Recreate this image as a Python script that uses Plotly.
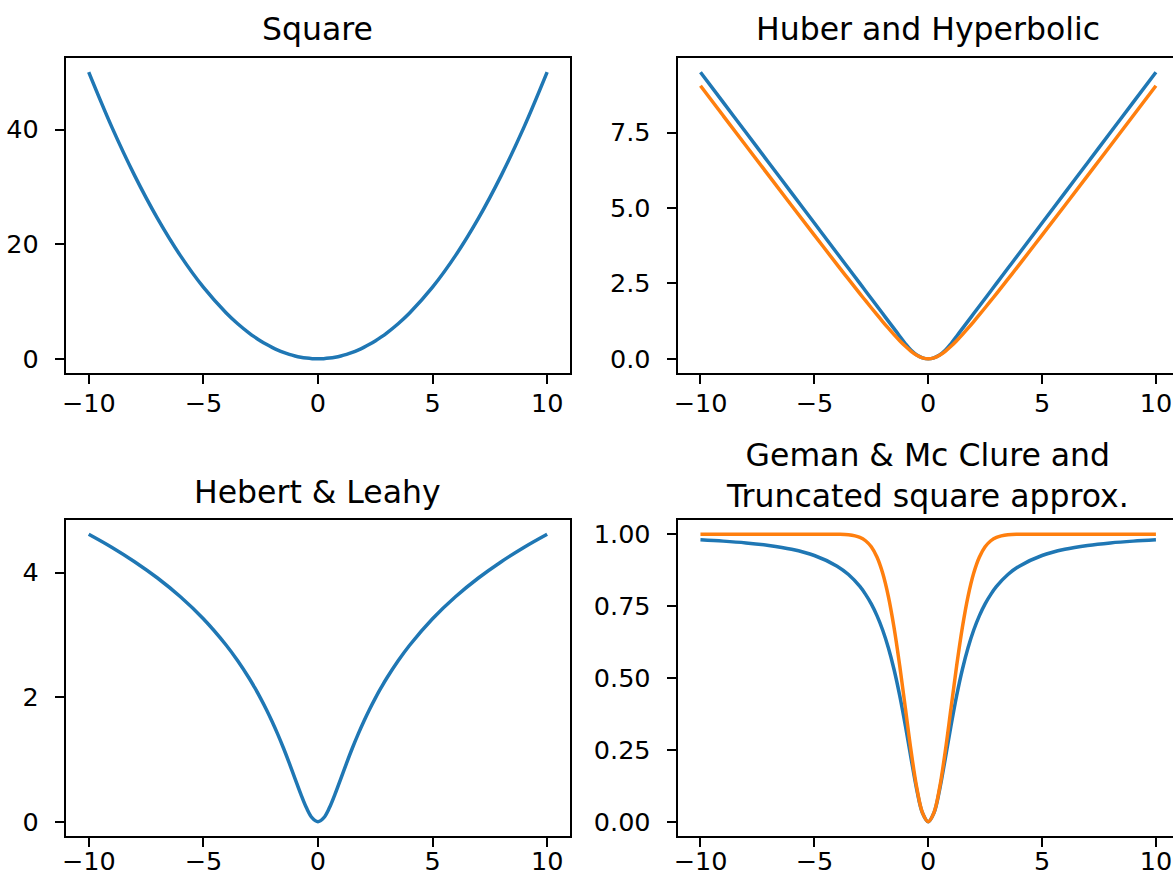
import plotly.graph_objects as go

# ---- data ----
x_vals = [-10, -9, -8, -7, -6, -5, -4, -3.5, -3, -2.75, -2.5, -2.25, -2, -1.75, -1.5, -1.25, -1, -0.75, -0.5, -0.25,
          0, 0.25, 0.5, 0.75, 1, 1.25, 1.5, 1.75, 2, 2.25, 2.5, 2.75, 3, 3.5, 4, 5, 6, 7, 8, 9, 10]

square = [50, 40.5, 32, 24.5, 18, 12.5, 8, 6.125, 4.5, 3.781, 3.125, 2.531, 2, 1.531, 1.125, 0.781, 0.5, 0.281, 0.125, 0.031,
          0, 0.031, 0.125, 0.281, 0.5, 0.781, 1.125, 1.531, 2, 2.531, 3.125, 3.781, 4.5, 6.125, 8, 12.5, 18, 24.5, 32, 40.5, 50]

huber = [9.5, 8.5, 7.5, 6.5, 5.5, 4.5, 3.5, 3.0, 2.5, 2.25, 2.0, 1.75, 1.5, 1.25, 1.0, 0.75, 0.5, 0.281, 0.125, 0.031,
         0, 0.031, 0.125, 0.281, 0.5, 0.75, 1.0, 1.25, 1.5, 1.75, 2.0, 2.25, 2.5, 3.0, 3.5, 4.5, 5.5, 6.5, 7.5, 8.5, 9.5]

hyperbolic = [9.05, 8.055, 7.062, 6.071, 5.083, 4.099, 3.123, 2.640, 2.162, 1.926, 1.693, 1.462, 1.236, 1.016, 0.803, 0.601, 0.414, 0.25, 0.118, 0.031,
              0, 0.031, 0.118, 0.25, 0.414, 0.601, 0.803, 1.016, 1.236, 1.462, 1.693, 1.926, 2.162, 2.640, 3.123, 4.099, 5.083, 6.071, 7.062, 8.055, 9.05]

hebert_leahy = [4.615, 4.407, 4.174, 3.912, 3.611, 3.258, 2.833, 2.584, 2.303, 2.147, 1.981, 1.802, 1.609, 1.402, 1.179, 0.941, 0.693, 0.446, 0.223, 0.061,
                0, 0.061, 0.223, 0.446, 0.693, 0.941, 1.179, 1.402, 1.609, 1.802, 1.981, 2.147, 2.303, 2.584, 2.833, 3.258, 3.611, 3.912, 4.174, 4.407, 4.615]

geman_mcclure = [0.9804, 0.9759, 0.9697, 0.9608, 0.9474, 0.9259, 0.8889, 0.8596, 0.8182, 0.7908, 0.7576, 0.7168, 0.6667, 0.6049, 0.5294, 0.4386, 0.3333, 0.2195, 0.1111, 0.0303,
                 0, 0.0303, 0.1111, 0.2195, 0.3333, 0.4386, 0.5294, 0.6049, 0.6667, 0.7168, 0.7576, 0.7908, 0.8182, 0.8596, 0.8889, 0.9259, 0.9474, 0.9608, 0.9697, 0.9759, 0.9804]

trunc_square = [1.0, 1.0, 1.0, 1.0, 1.0, 1.0, 0.9997, 0.9978, 0.9889, 0.9772, 0.9561, 0.9204, 0.8647, 0.7837, 0.6753, 0.5422, 0.3935, 0.2452, 0.1175, 0.0308,
                0, 0.0308, 0.1175, 0.2452, 0.3935, 0.5422, 0.6753, 0.7837, 0.8647, 0.9204, 0.9561, 0.9772, 0.9889, 0.9978, 0.9997, 1.0, 1.0, 1.0, 1.0, 1.0, 1.0]

titles = ["Square", "Huber and Hyperbolic", "Hebert & Leahy",
          "Geman & Mc Clure and<br>Truncated square approx."]

x_ticks = [-10, -5, 0, 5, 10]
x_ticktext = ["\u221210", "\u22125", "0", "5", "10"]
y_ticks_sq = [0, 20, 40]
y_ticks_hub = [0.0, 2.5, 5.0, 7.5]
y_ticktext_hub = ["0.0", "2.5", "5.0", "7.5"]
y_ticks_hl = [0, 2, 4]
y_ticks_gm = [0.0, 0.25, 0.5, 0.75, 1.0]
y_ticktext_gm = ["0.00", "0.25", "0.50", "0.75", "1.00"]

# ---- styling ----
W, H = 1173, 877
BLUE = "#1f77b4"
ORANGE = "#ff7f0e"
FONT = "DejaVu Sans"
TICK_SIZE = 25.5
TITLE_SIZE = 31.5
LW = 3.5


def px_x(p):
    return p / W


def px_y(p):
    return 1 - p / H


left_dom = [px_x(62), px_x(568)]
right_dom = [px_x(676), 1.0]
top_dom = [px_y(373), px_y(57)]
bot_dom = [px_y(837), px_y(520)]

fig = go.Figure()

line_kw = dict(mode="lines", line_shape="spline", showlegend=False, hoverinfo="skip")
fig.add_trace(go.Scatter(x=x_vals, y=square, line=dict(color=BLUE, width=LW), xaxis="x", yaxis="y", **line_kw))
fig.add_trace(go.Scatter(x=x_vals, y=huber, line=dict(color=BLUE, width=LW), xaxis="x2", yaxis="y2", **line_kw))
fig.add_trace(go.Scatter(x=x_vals, y=hyperbolic, line=dict(color=ORANGE, width=LW), xaxis="x2", yaxis="y2", **line_kw))
fig.add_trace(go.Scatter(x=x_vals, y=hebert_leahy, line=dict(color=BLUE, width=LW), xaxis="x3", yaxis="y3", **line_kw))
fig.add_trace(go.Scatter(x=x_vals, y=geman_mcclure, line=dict(color=BLUE, width=LW), xaxis="x4", yaxis="y4", **line_kw))
fig.add_trace(go.Scatter(x=x_vals, y=trunc_square, line=dict(color=ORANGE, width=LW), xaxis="x4", yaxis="y4", **line_kw))

axis_common = dict(showline=True, linecolor="black", linewidth=2, ticks="outside", ticklen=9,
                   tickwidth=2, tickcolor="black", showgrid=False, zeroline=False,
                   ticklabeloverflow="allow",
                   tickfont=dict(family=FONT, size=TICK_SIZE, color="black"))
x_top = dict(ticklabelstandoff=-3, **axis_common)
x_bot = dict(ticklabelstandoff=-8, **axis_common)
y_common = dict(ticklabelstandoff=11, **axis_common)

x_left_range = [-11, 11]
x_right_range = [-11, 10.75]

fig.update_layout(
    xaxis=dict(domain=left_dom, range=x_left_range, anchor="y", mirror=True,
               tickvals=x_ticks, ticktext=x_ticktext, **x_top),
    yaxis=dict(domain=top_dom, range=[-2.5, 52.5], anchor="x", mirror=True,
               tickvals=y_ticks_sq, **y_common),
    xaxis2=dict(domain=right_dom, range=x_right_range, anchor="y2", mirror=True,
                tickvals=x_ticks, ticktext=x_ticktext, **x_top),
    yaxis2=dict(domain=top_dom, range=[-0.475, 9.975], anchor="x2", mirror=False,
                tickvals=y_ticks_hub, ticktext=y_ticktext_hub, **y_common),
    xaxis3=dict(domain=left_dom, range=x_left_range, anchor="y3", mirror=True,
                tickvals=x_ticks, ticktext=x_ticktext, **x_bot),
    yaxis3=dict(domain=bot_dom, range=[-0.2308, 4.846], anchor="x3", mirror=True,
                tickvals=y_ticks_hl, **y_common),
    xaxis4=dict(domain=right_dom, range=x_right_range, anchor="y4", mirror=True,
                tickvals=x_ticks, ticktext=x_ticktext, **x_bot),
    yaxis4=dict(domain=bot_dom, range=[-0.05, 1.05], anchor="x4", mirror=False,
                tickvals=y_ticks_gm, ticktext=y_ticktext_gm, **y_common),
)

title_font = dict(family=FONT, size=TITLE_SIZE, color="black")
ann_specs = [
    (titles[0], 315, 28),
    (titles[1], 927, 28),
    (titles[2], 315, 492),
    (titles[3], 927, 476),
]
annotations = []
for text, cx, cy in ann_specs:
    annotations.append(dict(text=text, x=px_x(cx), y=px_y(cy), xref="paper", yref="paper",
                            xanchor="center", yanchor="middle", showarrow=False, font=title_font))

fig.update_layout(
    width=W, height=H,
    margin=dict(l=0, r=0, t=0, b=0),
    paper_bgcolor="white", plot_bgcolor="white",
    annotations=annotations,
    font=dict(family=FONT, color="black"),
)

post = (
    "document.documentElement.style.overflow='hidden';"
    "document.body.style.margin='0';"
    "document.body.style.overflow='hidden';"
)

fig.write_html("out.html", config={"displayModeBar": False}, post_script=post)
